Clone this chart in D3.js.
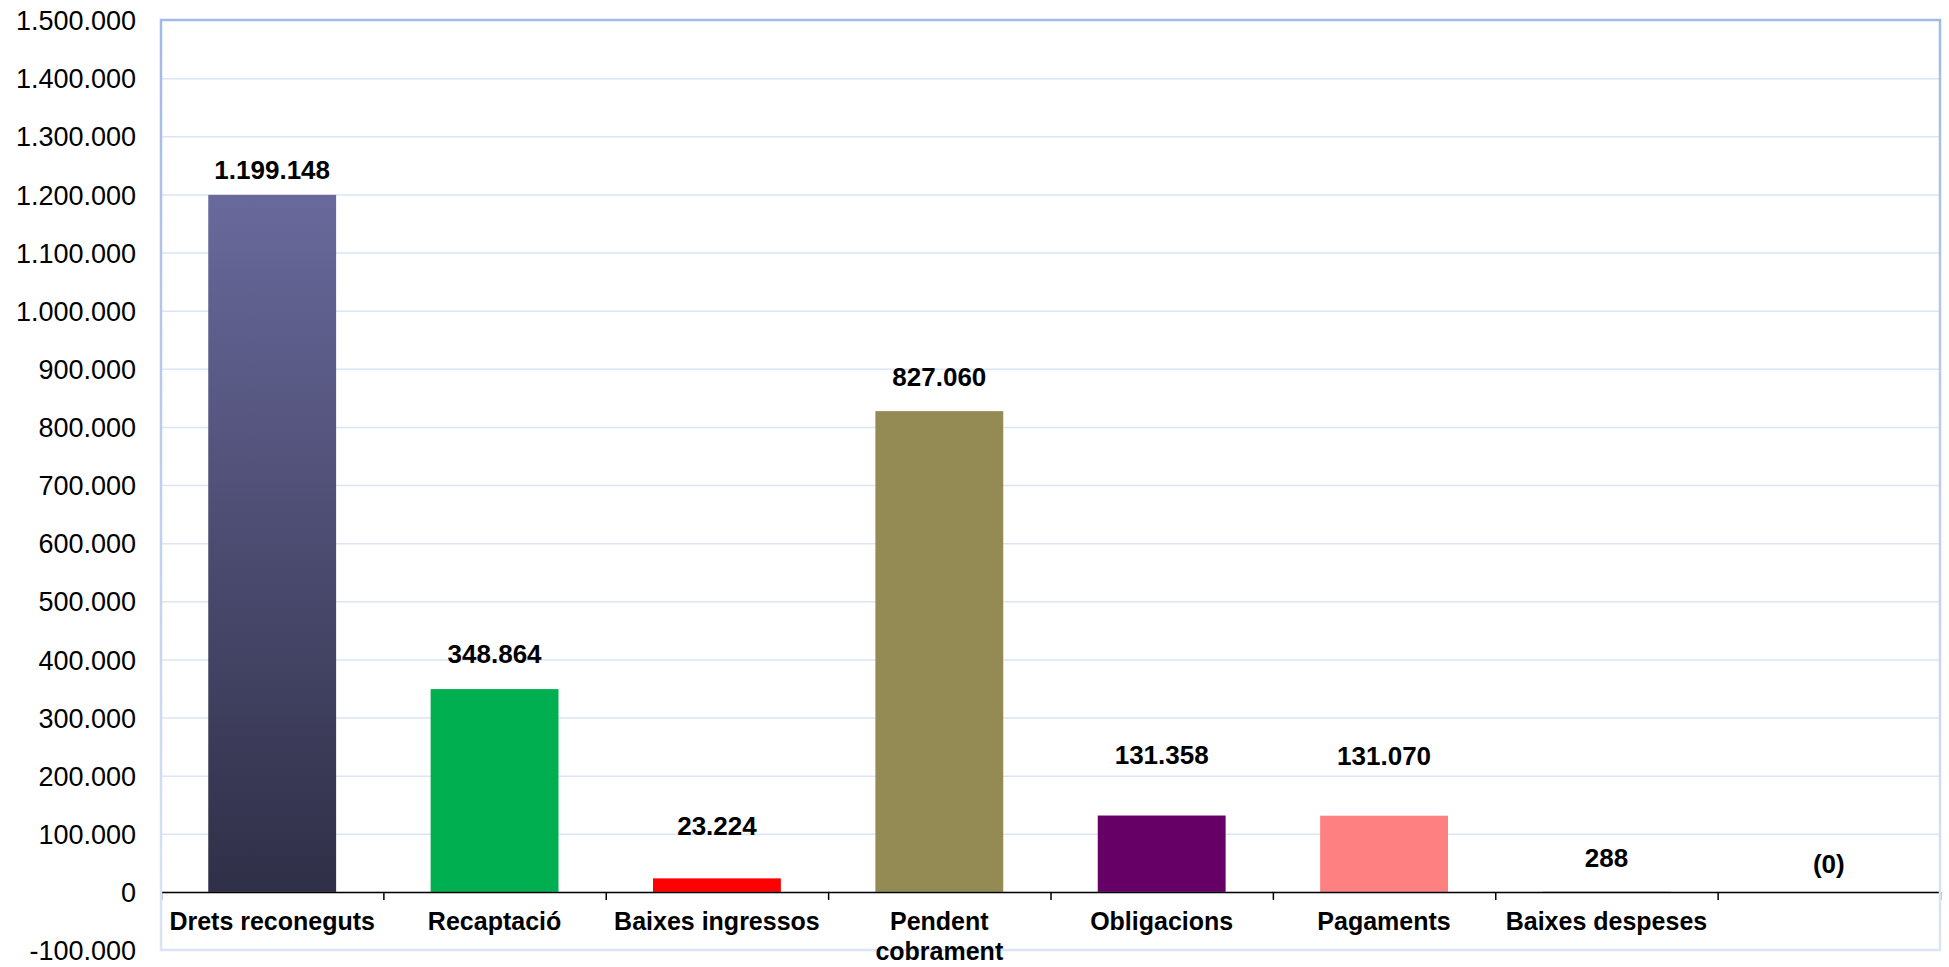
<html>
<head>
  <meta charset="UTF-8">
  <title>Execució pressupostària</title>
  <script src="https://cdn.jsdelivr.net/npm/d3@7"></script>
  <style>
    body { margin: 0; background: #fff; }
    text { font-family: "Liberation Sans", Arial, sans-serif; fill: #000; }
  </style>
</head>
<body>
  <div id="chart"></div>
  <script>
  // ---------------------------------------------------
  // Dades
  // ---------------------------------------------------
  var categories = ["Drets reconeguts", "Recaptació", "Baixes ingressos", "Pendent cobrament",
                    "Obligacions", "Pagaments", "Baixes despeses", ""];
  var values = [1199148, 348864, 23224, 827060, 131358, 131070, 288, -0.2];
  var yTickValues = [-100000, 0, 100000, 200000, 300000, 400000, 500000, 600000, 700000,
                     800000, 900000, 1000000, 1100000, 1200000, 1300000, 1400000, 1500000];

  // estil
  var barColors = ["url(#gradDrets)", "#00b050", "#ff0000", "#948a54", "#660066", "#ff8080", "#2f2f4a", "#2f2f4a"];
  var labelLift = [25, 35, 53, 35, 61, 60, 34, 28]; // px entre el cap de la barra i el centre de l'etiqueta

  var W = 1949, H = 967;
  var margin = { top: 20, right: 9, bottom: 17, left: 161 };
  var plotW = W - margin.left - margin.right;
  var plotH = H - margin.top - margin.bottom;

  var locale = d3.formatLocale({ decimal: ",", thousands: ".", grouping: [3], currency: ["", ""], minus: "-" });
  var fmt = locale.format(",.0f");
  function fmtValue(v) { return v < 0 ? "(" + fmt(-v) + ")" : fmt(v); }

  var svg = d3.select("#chart").append("svg")
    .attr("width", W)
    .attr("height", H);

  var defs = svg.append("defs");
  var g1 = defs.append("linearGradient").attr("id", "gradDrets")
    .attr("x1", 0).attr("y1", 0).attr("x2", 0).attr("y2", 1);
  g1.append("stop").attr("offset", "0%").attr("stop-color", "#69699c");
  g1.append("stop").attr("offset", "100%").attr("stop-color", "#2f2f47");

  var g2 = defs.append("linearGradient").attr("id", "gradFrame")
    .attr("gradientUnits", "userSpaceOnUse")
    .attr("x1", 0).attr("y1", margin.top).attr("x2", 0).attr("y2", margin.top + plotH);
  g2.append("stop").attr("offset", "0%").attr("stop-color", "#a2bae6");
  g2.append("stop").attr("offset", "100%").attr("stop-color", "#dce5f4");

  var plot = svg.append("g").attr("transform", "translate(" + margin.left + "," + margin.top + ")");

  var x = d3.scaleBand().domain(d3.range(categories.length)).range([0, plotW]);
  var y = d3.scaleLinear().domain([-100000, 1500000]).range([plotH, 0]);
  var barW = x.bandwidth() * 0.575;

  // ---------------------------------------------------
  // Graella
  // ---------------------------------------------------
  plot.append("g")
    .attr("class", "grid")
    .call(d3.axisLeft(y)
      .tickValues(yTickValues.filter(function (d) { return d > -100000 && d < 1500000; }))
      .tickSize(-plotW)
      .tickFormat(""))
    .call(function (g) { g.select(".domain").remove(); })
    .selectAll("line")
    .attr("stroke", "#dce5f3")
    .attr("stroke-width", 1.5);

  // eix Y (només etiquetes)
  plot.append("g")
    .call(d3.axisLeft(y)
      .tickValues(yTickValues)
      .tickSize(0)
      .tickPadding(25)
      .tickFormat(fmt))
    .call(function (g) { g.select(".domain").remove(); })
    .selectAll("text")
    .attr("dy", "0.36em")
    .style("font-size", "27px")
    .style("font-family", "'Liberation Sans', Arial, sans-serif")
    .attr("fill", "#000");

  // ---------------------------------------------------
  // Barres
  // ---------------------------------------------------
  plot.selectAll(".bar")
    .data(values)
    .enter()
    .append("rect")
    .attr("class", "bar")
    .attr("x", function (d, i) { return x(i) + (x.bandwidth() - barW) / 2; })
    .attr("y", function (d) { return y(Math.max(0, d)); })
    .attr("width", barW)
    .attr("height", function (d) { return Math.abs(y(d) - y(0)); })
    .attr("fill", function (d, i) { return barColors[i]; });

  // eix X al zero
  var xEdges = d3.scaleLinear().domain([0, categories.length]).range([0, plotW]);
  plot.append("g")
    .attr("transform", "translate(0," + y(0) + ")")
    .call(d3.axisBottom(xEdges)
      .tickValues(d3.range(categories.length + 1))
      .tickSizeInner(8)
      .tickSizeOuter(0)
      .tickFormat(""))
    .call(function (g) {
      g.selectAll("line, path").attr("stroke", "#000").attr("stroke-width", 1.5);
    });

  // marc
  plot.append("rect")
    .attr("x", 0).attr("y", 0)
    .attr("width", plotW).attr("height", plotH)
    .attr("fill", "none")
    .attr("stroke", "url(#gradFrame)")
    .attr("stroke-width", 2.5);

  // ---------------------------------------------------
  // Etiquetes de valor
  // ---------------------------------------------------
  plot.selectAll(".value-label")
    .data(values)
    .enter()
    .append("text")
    .attr("class", "value-label")
    .attr("x", function (d, i) { return x(i) + x.bandwidth() / 2; })
    .attr("y", function (d, i) { return y(Math.max(0, d)) - labelLift[i]; })
    .attr("dy", "0.36em")
    .attr("text-anchor", "middle")
    .style("font-size", "26px")
    .style("font-weight", "bold")
    .text(fmtValue);

  // ---------------------------------------------------
  // Etiquetes de categoria (amb salt de línia)
  // ---------------------------------------------------
  var catLabels = plot.selectAll(".cat-label")
    .data(categories)
    .enter()
    .append("text")
    .attr("class", "cat-label")
    .attr("x", function (d, i) { return x(i) + x.bandwidth() / 2; })
    .attr("y", y(0) + 38)
    .attr("text-anchor", "middle")
    .style("font-size", "25px")
    .style("font-weight", "bold");

  catLabels.each(function (d, i) {
    var text = d3.select(this);
    var words = d.split(" ");
    var line = [];
    var cx = x(i) + x.bandwidth() / 2;
    var tspan = text.append("tspan").attr("x", cx).attr("dy", 0);
    words.forEach(function (w) {
      line.push(w);
      tspan.text(line.join(" "));
      if (tspan.node().getComputedTextLength() > x.bandwidth() - 4 && line.length > 1) {
        line.pop();
        tspan.text(line.join(" "));
        line = [w];
        tspan = text.append("tspan").attr("x", cx).attr("dy", "1.22em").text(w);
      }
    });
  });
  </script>
</body>
</html>
